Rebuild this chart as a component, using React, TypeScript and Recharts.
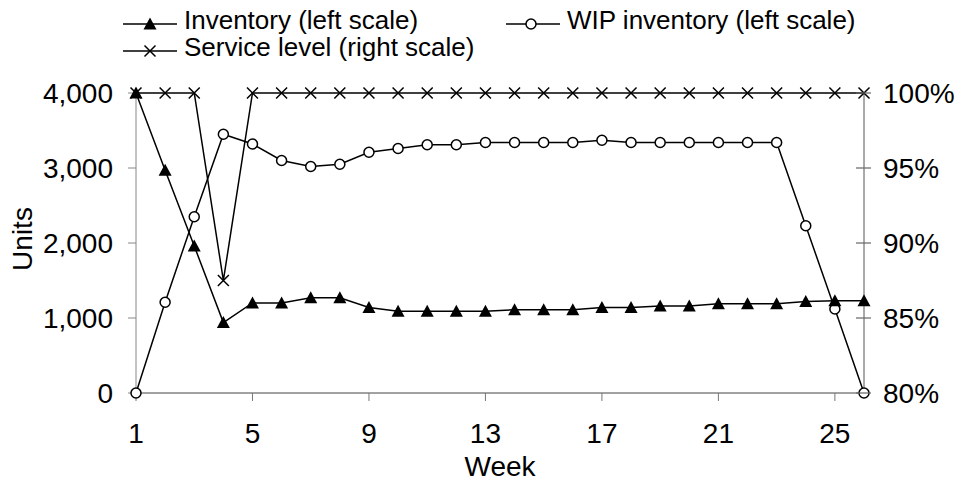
import React from "react";
import {
  LineChart,
  Line,
  XAxis,
  YAxis,
  Legend,
  Label,
} from "recharts";

// weekly values
const weeks = [1, 2, 3, 4, 5, 6, 7, 8, 9, 10, 11, 12, 13, 14, 15, 16, 17, 18, 19, 20, 21, 22, 23, 24, 25, 26];
const inventory = [4000, 2970, 1960, 940, 1200, 1200, 1270, 1270, 1140, 1090, 1090, 1090, 1090, 1110, 1110, 1110, 1140, 1140, 1160, 1160, 1190, 1190, 1190, 1220, 1230, 1230];
const wipInventory = [0, 1210, 2350, 3450, 3320, 3100, 3020, 3050, 3210, 3260, 3310, 3310, 3340, 3340, 3340, 3340, 3370, 3340, 3340, 3340, 3340, 3340, 3340, 2230, 1120, 0];
const serviceLevel = [1, 1, 1, 0.875, 1, 1, 1, 1, 1, 1, 1, 1, 1, 1, 1, 1, 1, 1, 1, 1, 1, 1, 1, 1, 1, 1];

const weekTicks = [1, 5, 9, 13, 17, 21, 25];
const unitTicks = [0, 1000, 2000, 3000, 4000];
const pctTicks = [0.8, 0.85, 0.9, 0.95, 1];

const data = weeks.map((w, i) => ({
  week: w,
  inventory: inventory[i],
  wip: wipInventory[i],
  service: serviceLevel[i],
}));

const FONT = "'Liberation Sans', Arial, sans-serif";
const FS = 28; // axis text
const LEG_FS = 26;

function triangle(cx: number, cy: number) {
  return `${cx},${cy - 6.5} ${cx + 6.5},${cy + 5.5} ${cx - 6.5},${cy + 5.5}`;
}

const TriDot = (p: any) => {
  if (p.cx == null || p.cy == null) return <g key={p.index} />;
  return <polygon key={p.index} points={triangle(p.cx, p.cy)} fill="#000" />;
};

const CircleDot = (p: any) => {
  if (p.cx == null || p.cy == null) return <g key={p.index} />;
  return <circle key={p.index} cx={p.cx} cy={p.cy} r={5} fill="#fff" stroke="#000" strokeWidth={1.5} />;
};

const CrossDot = (p: any) => {
  if (p.cx == null || p.cy == null) return <g key={p.index} />;
  const s = 5.5;
  return (
    <path
      key={p.index}
      d={`M${p.cx - s},${p.cy - s}L${p.cx + s},${p.cy + s}M${p.cx - s},${p.cy + s}L${p.cx + s},${p.cy - s}`}
      stroke="#000"
      strokeWidth={1.5}
    />
  );
};

// right axis: tick mark crosses the axis line
const RightTick = (p: any) => {
  const { x, y, payload } = p;
  return (
    <g>
      <line x1={x - 27} x2={x - 12} y1={y} y2={y} stroke="#666" strokeWidth={1.2} />
      <text x={x} y={y} dy="0.35em" textAnchor="start" fontSize={FS} fontFamily={FONT} fill="#000">
        {Math.round(payload.value * 100) + "%"}
      </text>
    </g>
  );
};

const renderLegend = () => (
  <svg width={958} height={62} style={{ display: "block" }}>
    <g fontFamily={FONT} fontSize={LEG_FS} fill="#000">
      <line x1={123} x2={177} y1={24} y2={24} stroke="#000" strokeWidth={1.5} />
      <polygon points={triangle(150, 24)} fill="#000" />
      <text x={184} y={29}>Inventory (left scale)</text>

      <line x1={506} x2={560} y1={24} y2={24} stroke="#000" strokeWidth={1.5} />
      <circle cx={531} cy={24} r={5} fill="#fff" stroke="#000" strokeWidth={1.5} />
      <text x={567} y={29}>WIP inventory (left scale)</text>

      <line x1={123} x2={177} y1={51} y2={51} stroke="#000" strokeWidth={1.5} />
      <path d="M144.5,45.5L155.5,56.5M144.5,56.5L155.5,45.5" stroke="#000" strokeWidth={1.5} />
      <text x={184} y={56}>Service level (right scale)</text>
    </g>
  </svg>
);

export default function App() {
  return (
    <div style={{ position: "absolute", left: 0, top: 0, width: 958, height: 481, background: "#fff" }}>
      <LineChart
        width={958}
        height={481}
        data={data}
        margin={{ top: 93, right: 0, bottom: 0, left: 0 }}
        style={{ fontFamily: FONT }}
      >
        <XAxis
          dataKey="week"
          type="number"
          domain={[1, 26]}
          ticks={weekTicks}
          height={88}
          tickSize={8}
          tickMargin={22}
          stroke="#444"
          tick={{ fill: "#000", fontSize: FS, fontFamily: FONT }}
          tickLine={{ stroke: "#777" }}
        >
          <Label value="Week" position="insideBottom" offset={5} fill="#000" fontSize={FS} fontFamily={FONT} />
        </XAxis>
        <YAxis
          yAxisId="left"
          orientation="left"
          domain={[0, 4000]}
          ticks={unitTicks}
          width={136}
          tickSize={8}
          tickMargin={15}
          stroke="#888"
          tick={{ fill: "#000", fontSize: FS, fontFamily: FONT }}
          tickFormatter={(v: number) => v.toLocaleString("en-US")}
        >
          <Label
            content={() => (
              <text
                x={22}
                y={239}
                transform="rotate(-90 22 239)"
                textAnchor="middle"
                dominantBaseline="central"
                fontSize={FS}
                fontFamily={FONT}
                fill="#000"
              >
                Units
              </text>
            )}
          />
        </YAxis>
        <YAxis
          yAxisId="right"
          orientation="right"
          domain={[0.8, 1]}
          ticks={pctTicks}
          width={94}
          tickSize={7}
          tickMargin={12}
          stroke="#555"
          tickLine={false}
          tick={RightTick}
        />
        <Legend
          content={renderLegend}
          layout="horizontal"
          verticalAlign="middle"
          align="center"
          wrapperStyle={{ top: 0, left: 0, width: 958, height: 62 }}
        />
        <Line
          yAxisId="right"
          dataKey="service"
          name="Service level (right scale)"
          stroke="#000"
          strokeWidth={1.5}
          dot={CrossDot}
          isAnimationActive={false}
        />
        <Line
          yAxisId="left"
          dataKey="wip"
          name="WIP inventory (left scale)"
          stroke="#000"
          strokeWidth={1.5}
          dot={CircleDot}
          isAnimationActive={false}
        />
        <Line
          yAxisId="left"
          dataKey="inventory"
          name="Inventory (left scale)"
          stroke="#000"
          strokeWidth={1.5}
          dot={TriDot}
          isAnimationActive={false}
        />
      </LineChart>
    </div>
  );
}
